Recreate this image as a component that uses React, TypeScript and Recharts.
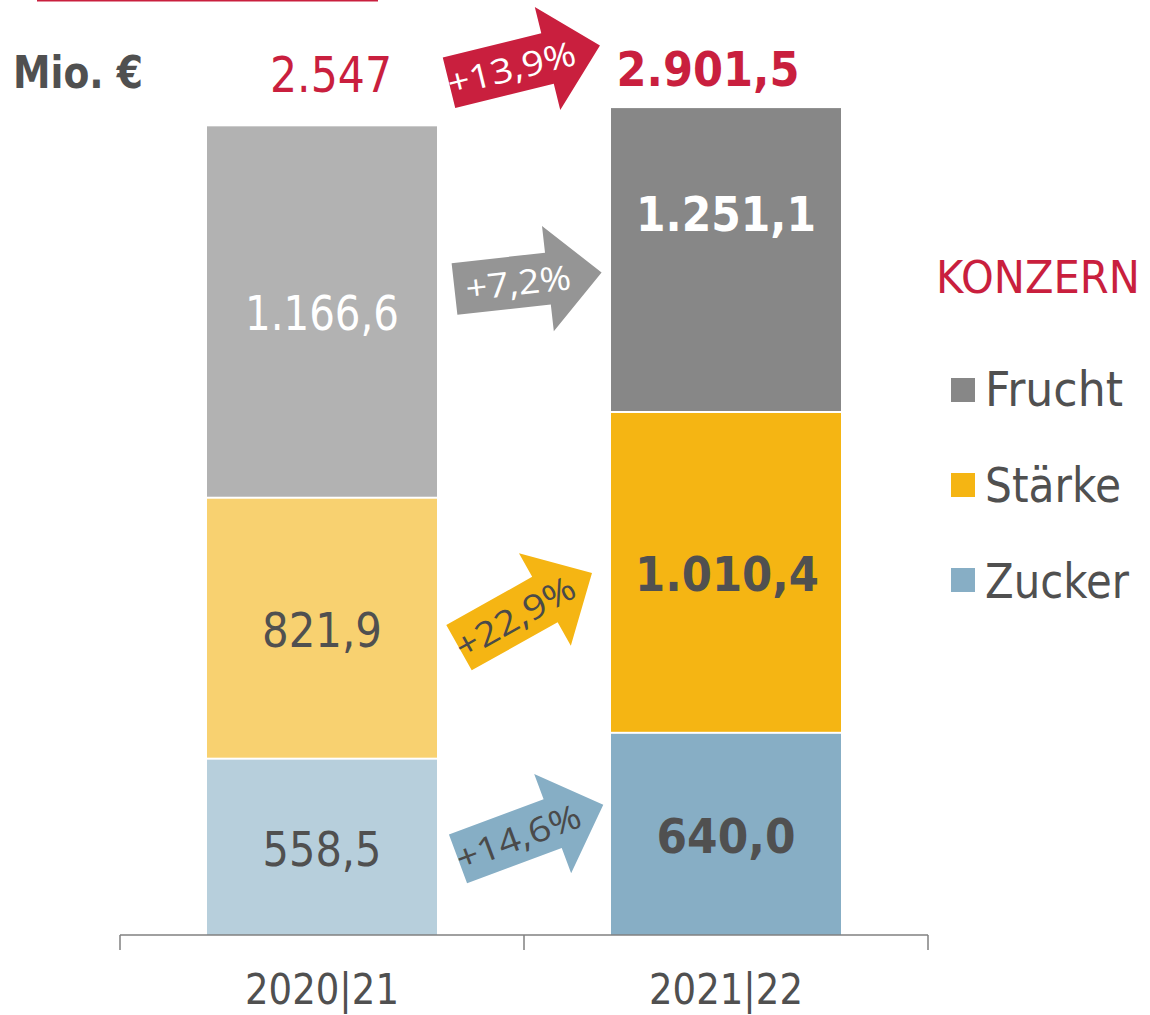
import React from 'react';
import { BarChart, Bar, XAxis, YAxis, LabelList } from 'recharts';

// ---------- data ----------
const categories = ['2020|21', '2021|22'];
const zuckerValues = [558.5, 640.0];
const staerkeValues = [821.9, 1010.4];
// bar height as drawn in the picture (the 2021|22 Frucht block is drawn shorter than its label)
const fruchtValues = [1166.6, 954];
const zuckerLabels = ['558,5', '640,0'];
const staerkeLabels = ['821,9', '1.010,4'];
const fruchtLabels = ['1.166,6', '1.251,1'];
const totalLabels = ['2.547', '2.901,5'];
const changeZucker = '+14,6%';
const changeStaerke = '+22,9%';
const changeFrucht = '+7,2%';
const changeTotal = '+13,9%';
const legendNames = ['Frucht', 'Stärke', 'Zucker'];
const unitLabel = 'Mio. €';
const groupLabel = 'KONZERN';

// ---------- styles ----------
const W = 1150;
const H = 1015;
const RED = '#c91f3e';
const TXT = '#505050';
const FONT = "'DejaVu Sans', Verdana, sans-serif";
const PFONT = "'Open Sans', sans-serif";
const zuckerColors = ['#b7cfdc', '#87aec5'];
const staerkeColors = ['#f8d170', '#f5b513'];
const fruchtColors = ['#b2b2b2', '#878787'];
const legendColors = ['#878787', '#f5b513', '#87aec5'];

const data = categories.map((c, i) => ({
  cat: c,
  zucker: zuckerValues[i],
  staerke: staerkeValues[i],
  frucht: fruchtValues[i],
}));

function Arrow({ x, y, angle, length, color, text, textColor, textLen }: any) {
  const hl = 54, hh = 53, bh = 26;
  const pts = `0,${-bh} ${length - hl},${-bh} ${length - hl},${-hh} ${length},0 ${length - hl},${hh} ${length - hl},${bh} 0,${bh}`;
  return (
    <g transform={`translate(${x},${y}) rotate(${angle})`}>
      <polygon points={pts} fill={color} />
      <text x={64} y={13} textAnchor="middle" fontSize={34} fontFamily={PFONT} fill={textColor}
        textLength={textLen} lengthAdjust="spacingAndGlyphs">{text}</text>
    </g>
  );
}

const valueText = (cx: number, baseline: number, txt: string, bold: boolean, color: string, len: number, size = 48) => (
  <text x={cx} y={baseline} textAnchor="middle" fontSize={size} fontWeight={bold ? 'bold' : 'normal'}
    fontFamily={FONT} fill={color} textLength={len} lengthAdjust="spacingAndGlyphs">{txt}</text>
);

const getBox = (props: any) => {
  const vb = props.viewBox && props.viewBox.width != null ? props.viewBox : props;
  return { x: Number(vb.x), y: Number(vb.y), w: Number(vb.width), h: Number(vb.height) };
};

const zuckerLabelContent = (props: any) => {
  const i = props.index;
  const { x, y, w, h } = getBox(props);
  const cx = x + w / 2;
  const cy = y + h / 2;
  return (
    <g>
      {valueText(cx, cy + 20, zuckerLabels[i], i === 1, TXT, i === 0 ? 119 : 139)}
      {i === 0 && (
        <Arrow x={x + w + 21} y={cy + 12.5} angle={-20.4} length={155} color="#86aec5"
          text={changeZucker} textColor="#4a4a4a" textLen={131} />
      )}
    </g>
  );
};

const staerkeLabelContent = (props: any) => {
  const i = props.index;
  const { x, y, w, h } = getBox(props);
  const cx = x + w / 2;
  const cy = y + h / 2;
  return (
    <g>
      {valueText(cx + (i === 0 ? 0 : 1), cy + 19.5, staerkeLabels[i], i === 1, TXT, i === 0 ? 120 : 184)}
      {i === 0 && (
        <Arrow x={x + w + 22} y={cy + 20.5} angle={-29.3} length={152.5} color="#f5b513"
          text={changeStaerke} textColor="#4a4a4a" textLen={132} />
      )}
    </g>
  );
};

const fruchtLabelContent = (props: any) => {
  const i = props.index;
  const { x, y, w, h } = getBox(props);
  const cx = x + w / 2;
  const cy = y + h / 2;
  return (
    <g>
      {i === 0
        ? valueText(cx, cy + 18, fruchtLabels[i], false, '#ffffff', 154)
        : valueText(cx, y + 123, fruchtLabels[i], true, '#ffffff', 180)}
      {i === 0 && (
        <Arrow x={x + w + 17.5} y={cy - 22.5} angle={-6.4} length={148} color="#959595"
          text={changeFrucht} textColor="#ffffff" textLen={106} />
      )}
      {i === 0 && (
        <Arrow x={x + w + 12} y={y - 43.5} angle={-13.9} length={155.5} color={RED}
          text={changeTotal} textColor="#ffffff" textLen={131} />
      )}
      {i === 0
        ? valueText(cx + 9, y - 34, totalLabels[i], false, RED, 122, 50)
        : valueText(cx - 18, y - 22, totalLabels[i], true, RED, 183)}
    </g>
  );
};

const makeShape = (colors: string[], gap: number) => (props: any) => {
  const { x, y, width, height, index } = props;
  return <rect x={x} y={y + gap} width={width} height={Math.max(0, height - gap)} fill={colors[index]} />;
};

const AxisTick = (props: any) => {
  const { x, y, payload, index, visibleTicksCount } = props;
  const half = (payload && payload.offset) ? payload.offset : 202;
  const last = index === (visibleTicksCount ? visibleTicksCount - 1 : categories.length - 1);
  return (
    <g>
      <line x1={x - half} x2={x - half} y1={y} y2={y + 15} stroke="#808080" strokeWidth={1.5} />
      {last && <line x1={x + half} x2={x + half} y1={y} y2={y + 15} stroke="#808080" strokeWidth={1.5} />}
      <text x={x} y={y + 69} textAnchor="middle" fontSize={42} fontFamily={FONT} fill={TXT}
        textLength={154} lengthAdjust="spacingAndGlyphs">{payload.value}</text>
    </g>
  );
};

export default function App() {
  return (
    <div style={{ position: 'absolute', left: 0, top: 0, width: W, height: H, background: '#fff' }}>
      <BarChart width={W} height={H} data={data} margin={{ top: 46, right: 222, bottom: 0, left: 120 }} barSize={230}>
        <XAxis dataKey="cat" height={80} interval={0} axisLine={{ stroke: '#808080', strokeWidth: 1.5 }}
          tickLine={false} tickSize={0} tickMargin={0} tick={<AxisTick />} />
        <YAxis hide domain={[0, 2800]} />
        <Bar dataKey="zucker" stackId="s" isAnimationActive={false} shape={makeShape(zuckerColors, 2)}>
          <LabelList dataKey="zucker" content={zuckerLabelContent} />
        </Bar>
        <Bar dataKey="staerke" stackId="s" isAnimationActive={false} shape={makeShape(staerkeColors, 2)}>
          <LabelList dataKey="staerke" content={staerkeLabelContent} />
        </Bar>
        <Bar dataKey="frucht" stackId="s" isAnimationActive={false} shape={makeShape(fruchtColors, 0)}>
          <LabelList dataKey="frucht" content={fruchtLabelContent} />
        </Bar>
      </BarChart>
      <svg width={W} height={H} style={{ position: 'absolute', left: 0, top: 0, pointerEvents: 'none' }}>
        <rect x={37} y={0} width={341} height={1.5} fill={RED} />
        <text x={13} y={88} fontSize={45} fontWeight="bold" fontFamily={FONT} fill={TXT}
          textLength={130} lengthAdjust="spacingAndGlyphs">{unitLabel}</text>
        <text x={1140} y={293} textAnchor="end" fontSize={44} fontFamily={FONT} fill={RED}
          textLength={204} lengthAdjust="spacingAndGlyphs">{groupLabel}</text>
        {legendNames.map((n, i) => (
          <g key={n}>
            <rect x={951} y={378 + i * 95} width={24} height={24} fill={legendColors[i]} />
            <text x={985} y={406 + i * 96} fontSize={48} fontFamily={FONT} fill={TXT}
              textLength={[138, 136, 144][i]} lengthAdjust="spacingAndGlyphs">{n}</text>
          </g>
        ))}
      </svg>
    </div>
  );
}
